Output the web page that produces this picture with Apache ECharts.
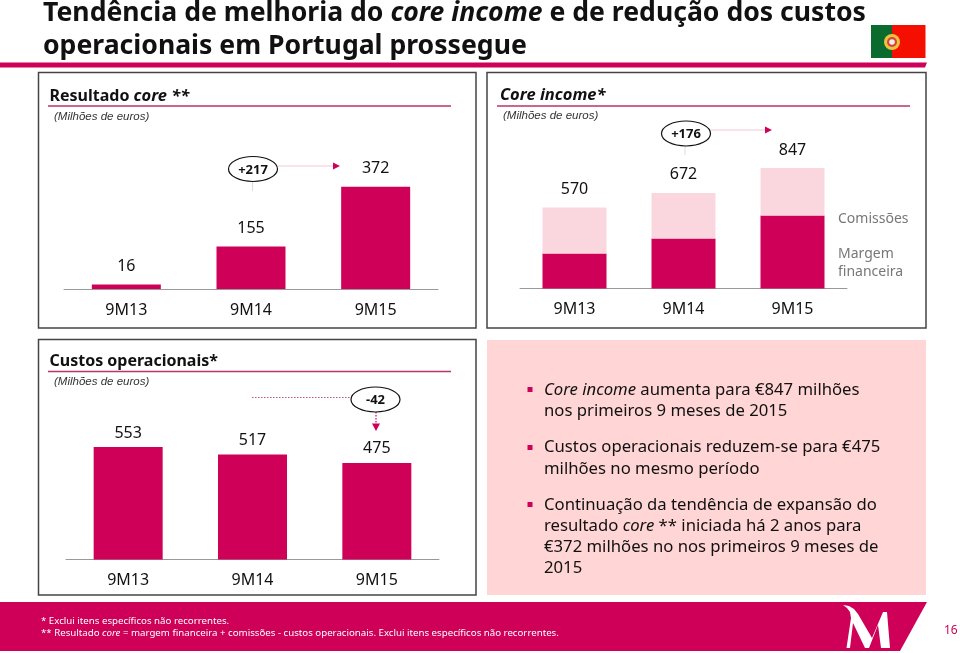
<!DOCTYPE html>
<html><head><meta charset="utf-8">
<style>html,body{margin:0;padding:0;background:#fff}#c{width:960px;height:653px}</style>
<script src="https://cdn.jsdelivr.net/npm/echarts@6/dist/echarts.min.js"></script>
</head><body><div id="c"></div>
<script>
const categories=['9M13','9M14','9M15'];
const coreResult=[16,155,372];
const margem=[246,351,513];
const comissoes=[324,321,334];
const coreIncome=[570,672,847];
const custos=[553,517,475];
const PINK='#CE0058', LIGHT='#FAD7DF', F='"Noto Sans"', TF='"Noto Sans"';
const chart=echarts.init(document.getElementById('c'),null,{renderer:'canvas'});
const grids=[
 {left:64,width:374,top:179,height:110},
 {left:520,width:327,top:168,height:120.6},
 {left:66,width:373,top:437.5,height:122}
];
const xa=i=>({type:'category',gridIndex:i,data:categories,axisTick:{show:false},
 axisLine:{lineStyle:{color:'#999',width:1}},
 axisLabel:{color:'#111',fontFamily:F,fontSize:16,margin:13}});
const ya=(i,max)=>({type:'value',gridIndex:i,min:0,max:max,show:false});
const lab=d=>({show:true,position:'top',distance:d,color:'#111',opacity:1,fontFamily:F,fontSize:16});
const txt=(x,y,text,o={})=>({type:'text',x,y,silent:true,z:10,style:Object.assign({text,fill:'#111',font:'16px '+F,verticalAlign:'middle'},o)});
const rect=(x,y,w,h,fill)=>({type:'rect',shape:{x,y,width:w,height:h},silent:true,z:1,style:{fill}});
const frame=(x,y,w,h)=>({type:'rect',shape:{x,y,width:w,height:h},silent:true,z:1,style:{fill:'none',stroke:'#444',lineWidth:1.5}});
const line=(x1,y1,x2,y2,stroke,w,dash)=>({type:'line',shape:{x1,y1,x2,y2},silent:true,z:2,style:{stroke,lineWidth:w,lineDash:dash||null}});
const tri=(pts)=>({type:'polygon',shape:{points:pts},silent:true,z:3,style:{fill:PINK}});
const ell=(cx,cy)=>({type:'ellipse',shape:{cx,cy,rx:24.5,ry:12.5},silent:true,z:3,style:{fill:'#fff',stroke:'#111',lineWidth:1.2}});
const pTitle=(x,y,parts)=>({type:'text',x,y,silent:true,z:10,style:{text:parts,verticalAlign:'middle',rich:{b:{font:'bold 16px '+F,fill:'#111'},i:{font:'italic bold 16.5px '+F,fill:'#111'}}}});
const sub=(x,y)=>txt(x,y,'(Milhões de euros)',{font:'italic 11.5px "Liberation Sans"',fill:'#333'});
const body={b:{font:'16.7px '+F,fill:'#111'},i:{font:'italic 16.7px '+F,fill:'#111'}};
const rt=(x,y,parts)=>({type:'text',x,y,silent:true,z:10,style:{text:parts,verticalAlign:'middle',rich:body}});
const graphic=[
 {type:'text',x:43,y:13,silent:true,style:{text:'{b|Tendência de melhoria do }{i|core income}{b| e de redução dos custos}',verticalAlign:'middle',rich:{b:{font:'bold 26.6px '+TF,fill:'#111'},i:{font:'italic bold 26.6px '+TF,fill:'#111'}}}},
 txt(43,46,'operacionais em Portugal prossegue',{font:'bold 26.6px '+TF}),
 {type:'polygon',shape:{points:[[0,62.5],[927,62.5],[925,67.5],[0,67.5]]},silent:true,style:{fill:PINK}},
 // flag
 rect(871,25,21,33,'#0B6B2E'),rect(892,25,33.5,33,'#F50F00'),
 {type:'circle',shape:{cx:892,cy:42,r:8},silent:true,z:2,style:{fill:'#E9C53B'}},
 {type:'circle',shape:{cx:892,cy:42,r:5},silent:true,z:2,style:{fill:'#D8443A'}},
 {type:'circle',shape:{cx:892,cy:42,r:2.8},silent:true,z:2,style:{fill:'#EEE'}},
 // panels
 frame(38.5,72.5,437.5,255.5),frame(487,72.5,439,255.5),frame(38.5,339.5,437.5,255.5),
 rect(487,340,439,255,'#FFD5D5'),
 pTitle(49.5,96,'{b|Resultado }{i|core **}'),line(48,106,451,106,'#B8356A',1.5),sub(54,117),
 pTitle(500,95,'{i|Core income*}'),line(497,106,910,106,'#B8356A',1.5),sub(503,116),
 pTitle(49.5,361,'{b|Custos operacionais*}'),line(48,371.5,451,371.5,'#B8356A',1.5),sub(54,382),
 // callouts
 line(278,166,333,166,'#F0C8D4',1),line(252.5,182,252.5,191,'#DDD',1),tri([[333,162.5],[340,166],[333,169.5]]),ell(253,169),
 txt(253,170,'+217',{font:'bold 13px '+F,align:'center'}),
 line(711,130,765,130,'#F0C8D4',1),line(685,146,685,155,'#DDD',1),tri([[765,126.5],[772,130],[765,133.5]]),ell(686,133.5),
 txt(686,134,'+176',{font:'bold 13px '+F,align:'center'}),
 line(252,397.5,351,397.5,'#B8567E',1.2,[1.5,1.5]),line(376,412,376,425,PINK,1.2,[1.5,1.5]),tri([[372,423.5],[380,423.5],[376,431]]),ell(375.5,399.5),
 txt(375.5,400,'-42',{font:'bold 13px '+F,align:'center'}),
 // legend text
 txt(838,219.5,'Comissões',{font:'14px '+F,fill:'#777'}),txt(838,254.5,'Margem',{font:'14px '+F,fill:'#777'}),txt(838,272.5,'financeira',{font:'14px '+F,fill:'#777'}),
 // bullets
 rect(527.5,387,5,5,PINK),rect(527.5,445,5,5,PINK),rect(527.5,502,5,5,PINK),
 rt(544,390,'{i|Core income}{b| aumenta para €847 milhões}'),rt(544,411,'{b|nos primeiros 9 meses de 2015}'),
 rt(544,447.5,'{b|Custos operacionais reduzem-se para €475}'),rt(544,469,'{b|milhões no mesmo período}'),
 rt(544,505,'{b|Continuação da tendência de expansão do}'),rt(544,526,'{b|resultado }{i|core}{b| ** iniciada há 2 anos para}'),rt(544,547,'{b|€372 milhões no nos primeiros 9 meses de}'),rt(544,568,'{b|2015}'),
 // footer
 {type:'polygon',shape:{points:[[0,602],[927,602],[900,651],[0,651]]},silent:true,z:1,style:{fill:PINK}},
 txt(41,621.5,'* Exclui itens específicos não recorrentes.',{font:'9.7px '+F,fill:'#fff'}),
 {type:'text',x:41,y:633.5,silent:true,z:10,style:{text:'{b|** Resultado }{i|core}{b| = margem financeira + comissões - custos operacionais. Exclui itens específicos não recorrentes.}',verticalAlign:'middle',rich:{b:{font:'9.7px '+F,fill:'#fff'},i:{font:'italic 9.7px '+F,fill:'#fff'}}}},
 {type:'polygon',shape:{points:[[843,605],[849,606],[854,609],[858,614],[872,638],[883,612],[887,612],[890,648],[881,648],[878,625],[869,648],[865,648],[853,623],[850,648],[846.5,648],[851,618],[850,612],[847,608]]},silent:true,z:3,style:{fill:'#fff'}},
 txt(944,631,'16',{font:'12px '+F,fill:PINK})
];
const barStyle={color:PINK};
chart.setOption({animation:false,backgroundColor:'#fff',
 grid:grids,
 xAxis:[xa(0),xa(1),xa(2)],
 yAxis:[ya(0,400),ya(1,847),ya(2,600)],
 graphic:graphic,
 series:[
  {name:'Resultado core',type:'bar',xAxisIndex:0,yAxisIndex:0,data:coreResult,barWidth:69,itemStyle:barStyle,label:lab(10)},
  {name:'Margem financeira',type:'bar',xAxisIndex:1,yAxisIndex:1,stack:'ci',data:margem,barWidth:64,itemStyle:barStyle},
  {name:'Comissões',type:'bar',xAxisIndex:1,yAxisIndex:1,stack:'ci',data:comissoes,barWidth:64,itemStyle:{color:LIGHT}},
  {name:'Core income',type:'scatter',xAxisIndex:1,yAxisIndex:1,data:coreIncome,symbolSize:0,itemStyle:{opacity:1},label:lab(10)},
  {name:'Custos operacionais',type:'bar',xAxisIndex:2,yAxisIndex:2,data:custos,barWidth:69,itemStyle:barStyle,label:lab(6)}
 ]});
</script></body></html>
